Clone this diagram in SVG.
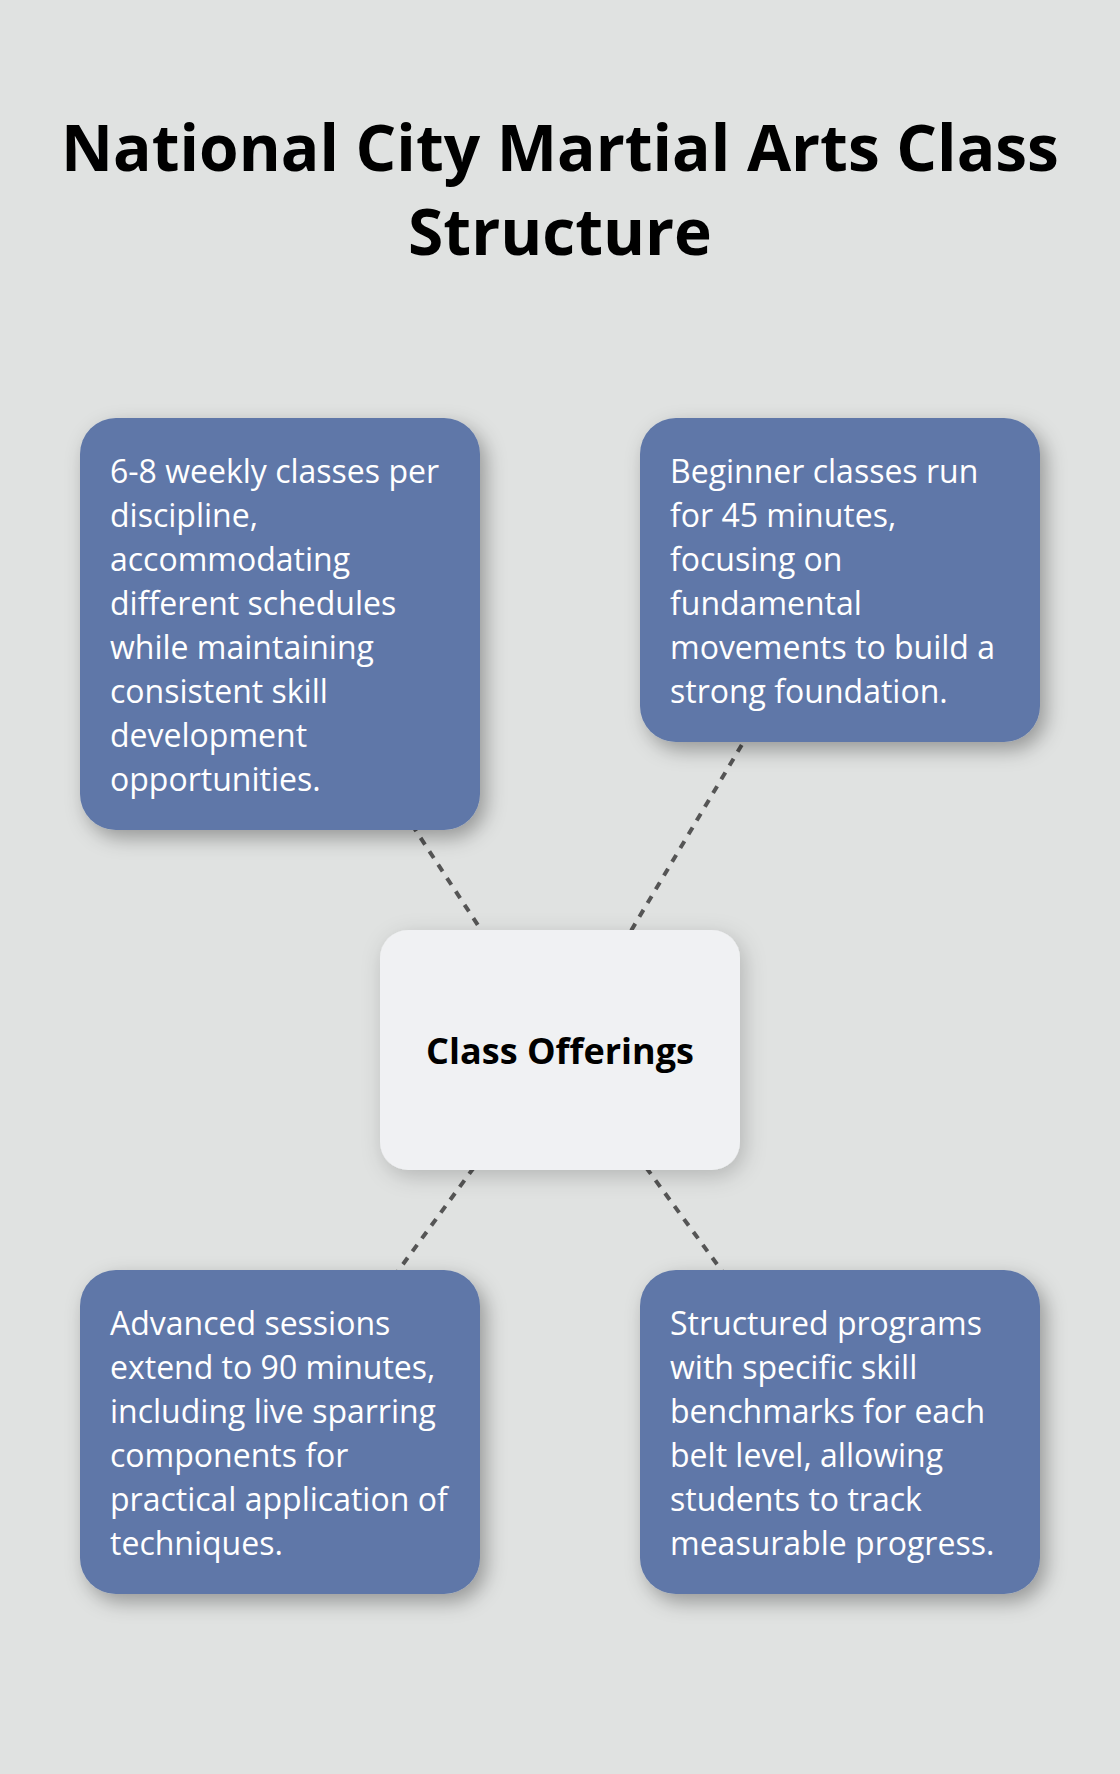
<svg xmlns="http://www.w3.org/2000/svg" width="1120" height="1774" viewBox="0 0 1120 1774">
<style>
.title{font-family:"Open Sans","Noto Sans",sans-serif;font-weight:700;font-size:64px;fill:#000;text-anchor:middle}
.body{font-family:"Open Sans","Noto Sans",sans-serif;font-size:32px;fill:#fff}
.center{font-family:"Open Sans","Noto Sans",sans-serif;font-weight:700;font-size:36px;fill:#000;text-anchor:middle}
.card{fill:#5E77A8;filter:url(#sh)}
.hub{fill:#F0F1F3;filter:url(#sh2)}
.link{stroke:#555;stroke-width:4;stroke-dasharray:8 8;fill:none}
</style>
<defs>
<filter id="sh" x="-25%" y="-25%" width="160%" height="160%">
<feDropShadow dx="6" dy="8" stdDeviation="10" flood-color="#000" flood-opacity="0.33"/>
</filter>
<filter id="sh2" x="-25%" y="-25%" width="160%" height="160%">
<feDropShadow dx="4" dy="6" stdDeviation="11" flood-color="#000" flood-opacity="0.2"/>
</filter>
</defs>
<rect width="1120" height="1774" fill="#E0E2E1"/>
<g id="title">
<text class="title" x="560" y="171">National City Martial Arts Class</text>
<text class="title" x="560" y="255">Structure</text>
</g>
<g id="connectors">
<line class="link" x1="280" y1="624" x2="560" y2="1050"/>
<line class="link" x1="840" y1="580" x2="560" y2="1050"/>
<line class="link" x1="280" y1="1432" x2="560" y2="1050"/>
<line class="link" x1="840" y1="1432" x2="560" y2="1050"/>
</g>
<g id="node-schedule">
<rect class="card" x="80" y="418" width="400" height="412" rx="36"/>
<text class="body"><tspan x="110" y="482.5">6-8 weekly classes per</tspan><tspan x="110" y="526.5">discipline,</tspan><tspan x="110" y="570.5">accommodating</tspan><tspan x="110" y="614.5">different schedules</tspan><tspan x="110" y="658.5">while maintaining</tspan><tspan x="110" y="702.5">consistent skill</tspan><tspan x="110" y="746.5">development</tspan><tspan x="110" y="790.5">opportunities.</tspan></text>
</g>
<g id="node-beginner">
<rect class="card" x="640" y="418" width="400" height="324" rx="36"/>
<text class="body"><tspan x="670" y="482.5">Beginner classes run</tspan><tspan x="670" y="526.5">for 45 minutes,</tspan><tspan x="670" y="570.5">focusing on</tspan><tspan x="670" y="614.5">fundamental</tspan><tspan x="670" y="658.5">movements to build a</tspan><tspan x="670" y="702.5">strong foundation.</tspan></text>
</g>
<g id="node-center">
<rect class="hub" x="380" y="930" width="360" height="240" rx="28"/>
<text class="center" x="560" y="1064">Class Offerings</text>
</g>
<g id="node-advanced">
<rect class="card" x="80" y="1270" width="400" height="324" rx="36"/>
<text class="body"><tspan x="110" y="1334.5">Advanced sessions</tspan><tspan x="110" y="1378.5">extend to 90 minutes,</tspan><tspan x="110" y="1422.5">including live sparring</tspan><tspan x="110" y="1466.5">components for</tspan><tspan x="110" y="1510.5">practical application of</tspan><tspan x="110" y="1554.5">techniques.</tspan></text>
</g>
<g id="node-programs">
<rect class="card" x="640" y="1270" width="400" height="324" rx="36"/>
<text class="body"><tspan x="670" y="1334.5">Structured programs</tspan><tspan x="670" y="1378.5">with specific skill</tspan><tspan x="670" y="1422.5">benchmarks for each</tspan><tspan x="670" y="1466.5">belt level, allowing</tspan><tspan x="670" y="1510.5">students to track</tspan><tspan x="670" y="1554.5">measurable progress.</tspan></text>
</g>
</svg>
